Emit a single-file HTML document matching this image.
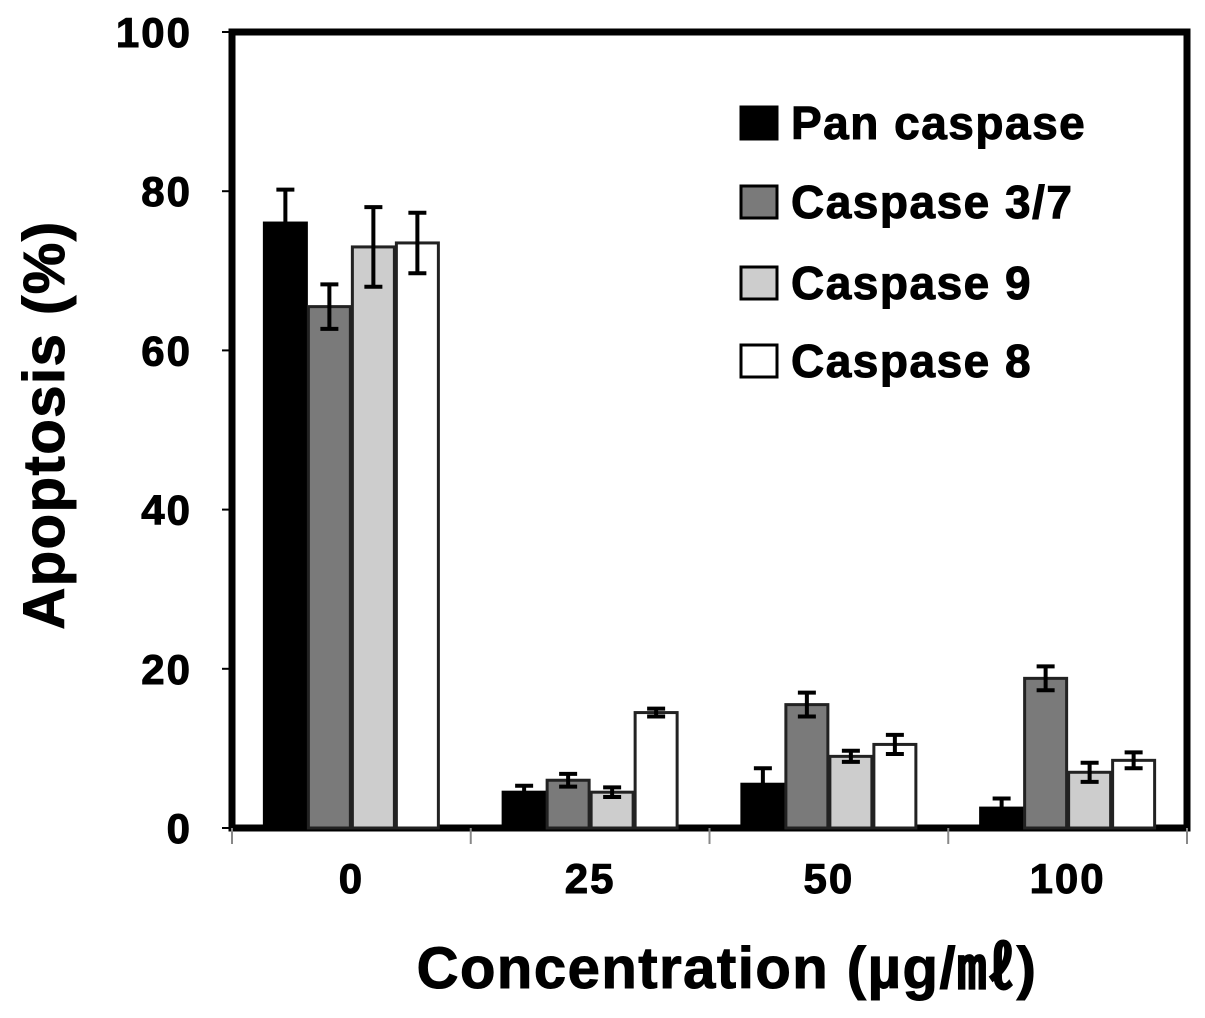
<!DOCTYPE html>
<html><head><meta charset="utf-8"><style>
body{margin:0;background:#fff;}
text{font-family:"Liberation Sans","DejaVu Sans",sans-serif;font-weight:bold;fill:#000;stroke:#000;stroke-width:1;}
</style></head><body>
<svg id="chart" width="1205" height="1013" viewBox="0 0 1205 1013" xmlns="http://www.w3.org/2000/svg"></svg>
<script>
const categories=["0","25","50","100"];
const seriesNames=["Pan caspase","Caspase 3/7","Caspase 9","Caspase 8"];
const panCaspase=[76,4.5,5.5,2.5];
const caspase37=[65.5,6,15.5,18.8];
const caspase9=[73,4.5,9,7];
const caspase8=[73.5,14.5,10.5,8.5];
const panErr=[4.2,0.8,2,1.2];
const c37Err=[2.8,0.8,1.5,1.5];
const c9Err=[5,0.6,0.7,1.2];
const c8Err=[3.8,0.5,1.2,1];
const yTicks=[0,20,40,60,80,100];
const series=[panCaspase,caspase37,caspase9,caspase8];
const errs=[panErr,c37Err,c9Err,c8Err];
const fills=["#000","#7a7a7a","#cdcdcd","#fff"];
const NS="http://www.w3.org/2000/svg";
const svg=document.getElementById('chart');
const x0=232,x1=1187,yBase=828,yTop=32;
const y=v=>yBase-(yBase-yTop)*v/100;
const bandW=(x1-x0)/categories.length;
const xc=i=>x0+bandW*(i+0.5);
const barW=42;
function el(t,a){const e=document.createElementNS(NS,t);for(const k in a)e.setAttribute(k,a[k]);svg.appendChild(e);return e;}
let f=el('rect',{x:x0,y:yTop,width:x1-x0,height:yBase-yTop,fill:'none',stroke:'#000','stroke-width':7});


yTicks.forEach(t=>{
 const tl=el('line',{x1:x0-10,x2:x0,y1:y(t),y2:y(t),stroke:'#000','stroke-width':2});
 
 
 const tx=el('text',{x:192,y:y(t)+15,'text-anchor':'end','font-size':42,'letter-spacing':2});
 tx.textContent=t;
 
 
});
for(let i=0;i<=categories.length;i++){
 const xt=el('line',{x1:x0+bandW*i,x2:x0+bandW*i,y1:yBase,y2:yBase+16,stroke:'#888','stroke-width':2});
 
 
}
categories.forEach((c,i)=>{
 const tx=el('text',{x:xc(i),y:893,'text-anchor':'middle','font-size':42,'letter-spacing':2});
 tx.textContent=c;
 
 
 series.forEach((s,j)=>{
  const bx=xc(i)-2*barW-3+j*(barW+2);
  const r=el('rect',{x:bx,y:y(s[i]),width:barW,height:yBase-y(s[i]),fill:fills[j],stroke:j==0?'#000':'#222','stroke-width':3});
  
  
  const cx=bx+barW/2,e=errs[j][i];
  const g=el('path',{d:`M${cx},${y(s[i]+e)}V${y(s[i]-e)}M${cx-9},${y(s[i]+e)}H${cx+9}M${cx-9},${y(s[i]-e)}H${cx+9}`,stroke:'#000','stroke-width':4,fill:'none'});
  
  
 });
});
const ly=[123,202,283,361];
seriesNames.forEach((n,j)=>{
 const r=el('rect',{x:741,y:ly[j]-16,width:36,height:32,fill:fills[j],stroke:'#000','stroke-width':3});
 
 
 const t=el('text',{x:791,y:ly[j]+16,'font-size':46,'letter-spacing':1.5});
 t.textContent=n;
 
 
});
const xt=el('text',{x:727,y:988,'text-anchor':'middle','font-size':58,'letter-spacing':1.5});
xt.textContent='Concentration (µg/㎖)';


const yt=el('text',{x:0,y:0,'text-anchor':'middle','font-size':58,'letter-spacing':1.5,transform:'translate(64,425) rotate(-90)'});
yt.textContent='Apoptosis (%)';


</script>
</body></html>
